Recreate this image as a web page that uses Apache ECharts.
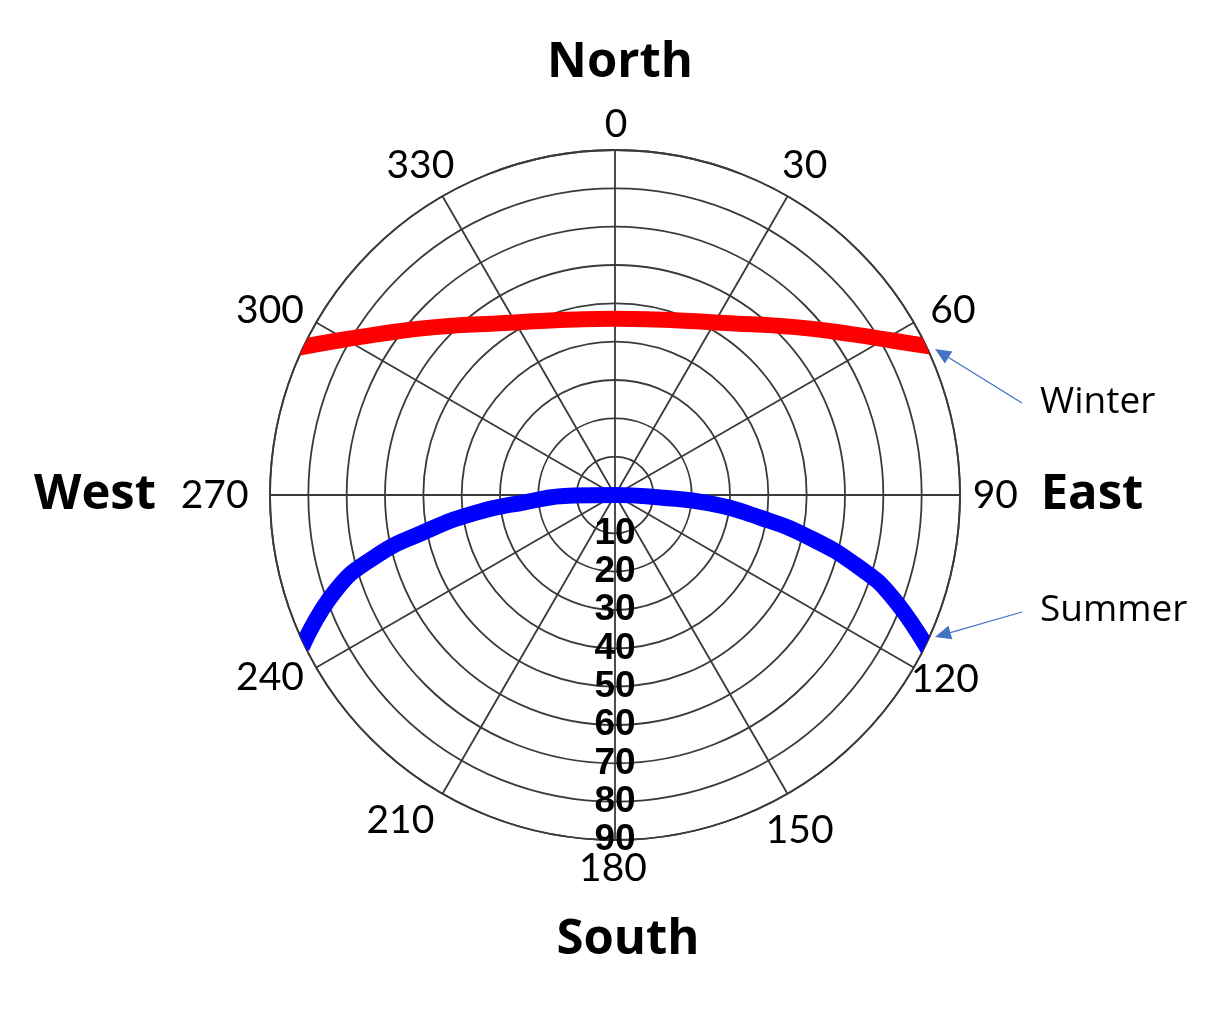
<!DOCTYPE html>
<html>
<head>
<meta charset="utf-8">
<script src="https://cdn.jsdelivr.net/npm/echarts@6/dist/echarts.min.js"></script>
<style>
html,body{margin:0;padding:0;background:#fff;}
#chart{width:1216px;height:1009px;}
</style>
</head>
<body>
<div id="chart"></div>
<script>
// Angle (azimuth) tick labels and radius (zenith) tick labels
const angleTicks = [0, 30, 60, 90, 120, 150, 180, 210, 240, 270, 300, 330];
const radiusTicks = [10, 20, 30, 40, 50, 60, 70, 80, 90];

// Winter path: azimuth (deg) and zenith (radius) values
const winterAzimuth = [295, 299, 304, 310, 317, 325, 335, 347, 0, 13, 25, 35, 43, 50, 56, 61, 65];
const winterZenith  = [91.0, 83.0, 74.9, 67.4, 60.5, 54.6, 50.0, 47.0, 46.0, 47.0, 50.0, 54.6, 60.5, 67.4, 74.9, 83.0, 91.4];

// Summer path
const summerAzimuth = [244, 251, 255.5, 259, 262.6, 265.3, 269.3, 0, 93.2, 95.1, 98.8, 102.3, 106.5, 110.2, 116.3];
const summerZenith  = [90.9, 77.3, 64.9, 50.8, 37.2, 24.0, 10.9, 0, 11.7, 24.8, 38.1, 51.8, 66.4, 77.0, 91.2];

const seriesNames = ['Winter', 'Summer'];
const directionNames = ['North', 'East', 'South', 'West'];

// ---- layout / style (not data) ----
const CENTER = [615, 495];
const RADIUS = 345;
const gridColor = '#3a3a3a';
const ANGLE_LABEL_RADIUS = 100; // radius value where angle tick labels sit
// small pixel nudges for individual angle labels
const angleLabelNudge = {
  0: [1, 13], 30: [-2, 2], 60: [6, 7], 90: [-3, 0], 120: [-2, -7], 150: [-7, 3],
  180: [-2, -10], 210: [-23, -7], 240: [-13, -9], 270: [-17, 0], 300: [-13, 7], 330: [-3, 2]
};

const chart = echarts.init(document.getElementById('chart'));

function pairs(az, zen) { return az.map((a, i) => [zen[i], a]); }

function arrow(tail, tip, color) {
  const dx = tip[0] - tail[0], dy = tip[1] - tail[1];
  const len = Math.sqrt(dx * dx + dy * dy);
  const ux = dx / len, uy = dy / len;
  const hl = 16, hw = 7;
  const bx = tip[0] - ux * hl, by = tip[1] - uy * hl;
  const px = -uy, py = ux;
  return [
    { type: 'line', shape: { x1: tail[0], y1: tail[1], x2: bx, y2: by }, style: { stroke: color, lineWidth: 1.3 }, z: 100 },
    { type: 'polygon', shape: { points: [tip, [bx + px * hw, by + py * hw], [bx - px * hw, by - py * hw]] }, style: { fill: color }, z: 100 }
  ];
}

const bigFont = { fontFamily: 'Open Sans', fontWeight: 'bold', fontSize: 49, fill: '#000' };
const midFont = { fontFamily: 'Open Sans', fontSize: 37, fill: '#000' };

chart.setOption({
  animation: false,
  backgroundColor: '#ffffff',
  polar: [
    { center: CENTER, radius: RADIUS },
    { center: CENTER, radius: RADIUS }
  ],
  angleAxis: [
    {
      polarIndex: 0, type: 'value', min: 0, max: 360, interval: 30,
      startAngle: 90, clockwise: true,
      axisLine: { show: true, lineStyle: { color: gridColor, width: 1.8 } },
      axisTick: { show: false },
      splitLine: { show: true, lineStyle: { color: gridColor, width: 1.8 } },
      axisLabel: { show: false }
    },
    {
      polarIndex: 1, type: 'value', min: 0, max: 360, interval: 30,
      startAngle: -90, clockwise: true,
      axisLine: { show: false }, axisTick: { show: false },
      splitLine: { show: false }, axisLabel: { show: false }
    }
  ],
  radiusAxis: [
    {
      polarIndex: 0, type: 'value', min: 0, max: 90, interval: 10,
      axisLine: { show: false }, axisTick: { show: false }, axisLabel: { show: false },
      splitLine: { show: true, lineStyle: { color: gridColor, width: 1.8 } }
    },
    {
      polarIndex: 1, type: 'value', min: 0, max: 90, interval: 10,
      axisLine: { show: false }, axisTick: { show: false }, splitLine: { show: false },
      z: 20,
      axisLabel: {
        show: true, margin: 0, color: '#000', fontFamily: 'Liberation Sans Narrow, Liberation Sans', fontWeight: 'bold', fontSize: 37,
        align: 'center', verticalAlign: 'middle', padding: [0, 0, 10, 0],
        formatter: v => (radiusTicks.indexOf(v) >= 0 ? String(v) : '')
      }
    }
  ],
  series: [
    {
      name: seriesNames[0], type: 'line', coordinateSystem: 'polar', polarIndex: 0,
      data: pairs(winterAzimuth, winterZenith),
      smooth: 0.5, showSymbol: false, symbol: 'none', clip: false,
      lineStyle: { color: '#ff0000', width: 16, cap: 'butt' }, z: 5
    },
    {
      name: seriesNames[1], type: 'line', coordinateSystem: 'polar', polarIndex: 0,
      data: pairs(summerAzimuth, summerZenith),
      smooth: 0.5, showSymbol: false, symbol: 'none', clip: false,
      lineStyle: { color: '#0000ff', width: 16, cap: 'butt' }, z: 5
    },
    {
      name: 'angleLabels', type: 'scatter', coordinateSystem: 'polar', polarIndex: 0,
      clip: false, symbolSize: 0, silent: true, z: 10,
      itemStyle: { opacity: 1 },
      data: angleTicks.map(a => ({
        value: [ANGLE_LABEL_RADIUS, a],
        label: { offset: angleLabelNudge[a] || [0, 0] }
      })),
      label: {
        show: true, position: 'inside', align: 'center', verticalAlign: 'middle',
        color: '#000', opacity: 1, fontFamily: 'Lato', fontSize: 39,
        formatter: p => String(p.value[1])
      }
    }
  ],
  graphic: [
    { type: 'text', x: 620, y: 63, style: Object.assign({ text: directionNames[0], align: 'center', verticalAlign: 'middle' }, bigFont), z: 100 },
    { type: 'text', x: 1092, y: 495, style: Object.assign({ text: directionNames[1], align: 'center', verticalAlign: 'middle' }, bigFont), z: 100 },
    { type: 'text', x: 628, y: 940, style: Object.assign({ text: directionNames[2], align: 'center', verticalAlign: 'middle' }, bigFont), z: 100 },
    { type: 'text', x: 95, y: 495, style: Object.assign({ text: directionNames[3], align: 'center', verticalAlign: 'middle' }, bigFont), z: 100 },
    { type: 'text', x: 1040, y: 402, style: Object.assign({ text: seriesNames[0], align: 'left', verticalAlign: 'middle' }, midFont), z: 100 },
    { type: 'text', x: 1040, y: 610, style: Object.assign({ text: seriesNames[1], align: 'left', verticalAlign: 'middle' }, midFont), z: 100 }
  ].concat(arrow([1022, 403], [935, 349], '#4472c4'), arrow([1022, 612], [935, 637], '#4472c4'))
});
</script>
</body>
</html>
